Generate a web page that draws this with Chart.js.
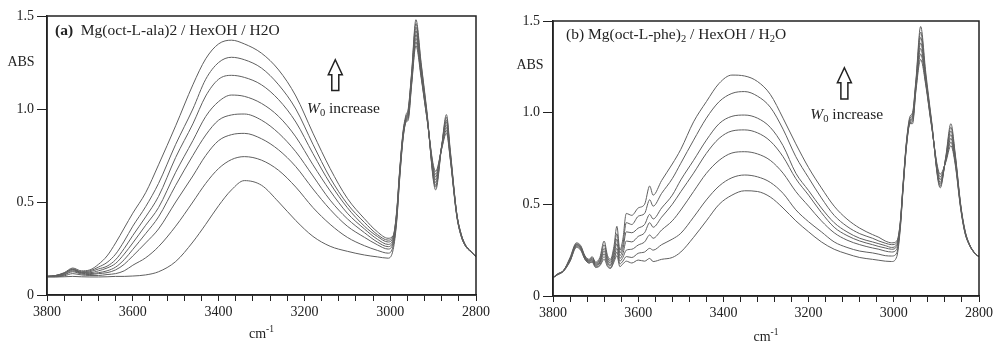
<!DOCTYPE html>
<html>
<head>
<meta charset="utf-8">
<script src="https://cdn.jsdelivr.net/npm/chart.js@4"></script>
<style>
body { margin: 0; background: #fff; width: 996px; height: 343px; overflow: hidden; position: relative; }
canvas { position: absolute; top: 0; }
</style>
</head>
<body>
<canvas id="ca" width="496" height="343" style="left:0"></canvas>
<canvas id="cb" width="490" height="343" style="left:506px"></canvas>
<script>
// wavenumber grids (cm-1)
const wnA = [3800, 3780, 3760, 3740, 3720, 3700, 3680, 3660, 3640, 3620, 3600,
  3570, 3540, 3500, 3460, 3430, 3400, 3370, 3340, 3300, 3260, 3220, 3180, 3140, 3100, 3060, 3030, 3005,
  2993, 2985, 2978, 2970, 2963, 2958, 2950, 2940, 2928, 2915, 2894, 2880, 2869, 2860, 2845, 2835, 2825, 2812, 2800]

const wnB = [3800, 3790, 3775, 3760, 3745, 3735, 3725, 3715, 3708, 3700, 3690, 3680, 3672, 3665, 3657, 3650, 3643, 3636, 3628, 3615, 3600, 3585, 3573, 3565, 3545,
  3520, 3500, 3470, 3440, 3410, 3380, 3350, 3320, 3290, 3260, 3230, 3200, 3170, 3140, 3110, 3080, 3050, 3035, 3020, 3005,
  2993, 2985, 2978, 2970, 2962, 2956, 2948, 2937, 2925, 2912, 2891, 2878, 2866, 2856, 2843, 2833, 2822, 2810, 2800]

// (a) Mg(oct-L-ala)2 — absorbance, W0 from high to low
const a1 = [0.10, 0.105, 0.12, 0.145, 0.13, 0.135, 0.165, 0.21, 0.28, 0.36, 0.44,
  0.55, 0.70, 0.91, 1.13, 1.27, 1.35, 1.37, 1.35, 1.30, 1.21, 1.07, 0.87, 0.68, 0.52, 0.41, 0.34, 0.305,
  0.32, 0.45, 0.67, 0.88, 0.97, 1.00, 1.20, 1.48, 1.25, 1.00, 0.565, 0.80, 0.97, 0.78, 0.44, 0.33, 0.27, 0.235, 0.205]
const a2 = [0.10, 0.105, 0.118, 0.14, 0.125, 0.13, 0.15, 0.175, 0.22, 0.29, 0.37,
  0.475, 0.60, 0.81, 1.00, 1.16, 1.25, 1.278, 1.265, 1.22, 1.13, 1.00, 0.81, 0.63, 0.49, 0.39, 0.325, 0.295,
  0.315, 0.44, 0.66, 0.87, 0.96, 0.99, 1.19, 1.46, 1.24, 0.99, 0.58, 0.80, 0.955, 0.77, 0.44, 0.33, 0.27, 0.235, 0.205]
const a3 = [0.10, 0.104, 0.116, 0.138, 0.122, 0.125, 0.14, 0.155, 0.19, 0.25, 0.32,
  0.42, 0.53, 0.74, 0.92, 1.07, 1.16, 1.181, 1.17, 1.13, 1.05, 0.93, 0.76, 0.60, 0.47, 0.37, 0.315, 0.285,
  0.31, 0.44, 0.66, 0.87, 0.955, 0.985, 1.18, 1.44, 1.22, 0.98, 0.59, 0.80, 0.94, 0.76, 0.44, 0.33, 0.27, 0.235, 0.205]
const a4 = [0.10, 0.103, 0.114, 0.135, 0.12, 0.12, 0.13, 0.145, 0.17, 0.22, 0.28,
  0.375, 0.47, 0.66, 0.83, 0.96, 1.04, 1.075, 1.068, 1.03, 0.96, 0.85, 0.70, 0.56, 0.44, 0.355, 0.30, 0.272,
  0.30, 0.43, 0.65, 0.86, 0.95, 0.975, 1.17, 1.42, 1.21, 0.98, 0.605, 0.80, 0.93, 0.755, 0.435, 0.325, 0.268, 0.233, 0.205]
const a5 = [0.10, 0.102, 0.11, 0.13, 0.117, 0.115, 0.12, 0.13, 0.15, 0.19, 0.245,
  0.33, 0.42, 0.59, 0.75, 0.86, 0.94, 0.968, 0.973, 0.94, 0.87, 0.77, 0.64, 0.51, 0.41, 0.335, 0.285, 0.26,
  0.29, 0.42, 0.65, 0.86, 0.945, 0.97, 1.16, 1.40, 1.20, 0.97, 0.62, 0.80, 0.915, 0.75, 0.435, 0.325, 0.268, 0.233, 0.205]
const a6 = [0.10, 0.10, 0.107, 0.125, 0.113, 0.11, 0.115, 0.12, 0.135, 0.165, 0.21,
  0.28, 0.355, 0.50, 0.64, 0.75, 0.83, 0.862, 0.869, 0.84, 0.78, 0.69, 0.57, 0.46, 0.37, 0.31, 0.27, 0.247,
  0.28, 0.41, 0.64, 0.85, 0.94, 0.96, 1.15, 1.38, 1.19, 0.97, 0.635, 0.79, 0.90, 0.74, 0.43, 0.32, 0.265, 0.232, 0.205]
const a7 = [0.098, 0.098, 0.103, 0.115, 0.108, 0.105, 0.105, 0.11, 0.115, 0.13, 0.16,
  0.20, 0.26, 0.37, 0.50, 0.60, 0.68, 0.728, 0.744, 0.725, 0.67, 0.58, 0.47, 0.38, 0.31, 0.265, 0.24, 0.225,
  0.265, 0.40, 0.63, 0.845, 0.935, 0.95, 1.14, 1.36, 1.18, 0.96, 0.65, 0.79, 0.885, 0.735, 0.43, 0.32, 0.265, 0.232, 0.205]
const a8 = [0.097, 0.097, 0.098, 0.10, 0.098, 0.097, 0.097, 0.098, 0.10, 0.10, 0.102,
  0.108, 0.125, 0.18, 0.285, 0.38, 0.48, 0.565, 0.615, 0.59, 0.50, 0.40, 0.315, 0.262, 0.235, 0.215, 0.205, 0.198,
  0.245, 0.39, 0.62, 0.84, 0.93, 0.94, 1.13, 1.34, 1.17, 0.96, 0.665, 0.785, 0.87, 0.73, 0.425, 0.32, 0.265, 0.232, 0.205]

// (b) Mg(oct-L-phe)2
const b1 = [0.10, 0.12, 0.14, 0.21, 0.29, 0.275, 0.22, 0.20, 0.215, 0.185, 0.21, 0.30, 0.22, 0.20, 0.27, 0.38, 0.25, 0.31, 0.45, 0.44, 0.48, 0.50, 0.60, 0.55, 0.63,
  0.72, 0.80, 0.95, 1.06, 1.16, 1.205, 1.20, 1.17, 1.10, 0.97, 0.83, 0.70, 0.59, 0.49, 0.42, 0.37, 0.335, 0.32, 0.30, 0.29,
  0.30, 0.40, 0.62, 0.85, 0.98, 1.00, 1.18, 1.47, 1.22, 0.97, 0.59, 0.76, 0.94, 0.78, 0.50, 0.36, 0.28, 0.235, 0.214]
const b2 = [0.10, 0.118, 0.14, 0.205, 0.285, 0.27, 0.215, 0.195, 0.21, 0.18, 0.20, 0.28, 0.21, 0.19, 0.25, 0.34, 0.235, 0.28, 0.40, 0.39, 0.435, 0.45, 0.525, 0.49, 0.56,
  0.64, 0.724, 0.85, 0.97, 1.06, 1.105, 1.115, 1.09, 1.03, 0.91, 0.76, 0.645, 0.535, 0.44, 0.38, 0.34, 0.315, 0.30, 0.288, 0.28,
  0.29, 0.395, 0.615, 0.845, 0.97, 0.99, 1.17, 1.44, 1.20, 0.96, 0.60, 0.755, 0.92, 0.77, 0.495, 0.355, 0.28, 0.235, 0.214]
const b3 = [0.10, 0.118, 0.14, 0.20, 0.28, 0.265, 0.21, 0.19, 0.205, 0.175, 0.19, 0.26, 0.20, 0.18, 0.235, 0.31, 0.22, 0.255, 0.35, 0.345, 0.37, 0.39, 0.445, 0.42, 0.48,
  0.55, 0.633, 0.74, 0.85, 0.94, 0.98, 0.987, 0.97, 0.92, 0.82, 0.67, 0.575, 0.48, 0.40, 0.35, 0.315, 0.295, 0.285, 0.275, 0.265,
  0.28, 0.39, 0.61, 0.84, 0.96, 0.98, 1.16, 1.41, 1.19, 0.955, 0.61, 0.75, 0.90, 0.76, 0.49, 0.355, 0.278, 0.234, 0.214]
const b4 = [0.10, 0.116, 0.138, 0.20, 0.28, 0.265, 0.21, 0.19, 0.20, 0.17, 0.185, 0.245, 0.19, 0.17, 0.22, 0.285, 0.205, 0.23, 0.30, 0.295, 0.325, 0.345, 0.40, 0.375, 0.43,
  0.50, 0.569, 0.67, 0.778, 0.86, 0.90, 0.906, 0.89, 0.845, 0.76, 0.64, 0.55, 0.455, 0.375, 0.33, 0.30, 0.28, 0.27, 0.262, 0.255,
  0.27, 0.385, 0.605, 0.835, 0.955, 0.97, 1.15, 1.38, 1.18, 0.95, 0.62, 0.745, 0.88, 0.75, 0.49, 0.35, 0.278, 0.234, 0.214]
const b5 = [0.10, 0.116, 0.138, 0.195, 0.275, 0.26, 0.205, 0.185, 0.195, 0.165, 0.18, 0.23, 0.18, 0.165, 0.205, 0.26, 0.19, 0.21, 0.25, 0.255, 0.278, 0.295, 0.333, 0.315, 0.36,
  0.41, 0.469, 0.57, 0.669, 0.74, 0.78, 0.787, 0.775, 0.74, 0.67, 0.57, 0.49, 0.41, 0.345, 0.305, 0.28, 0.262, 0.255, 0.245, 0.24,
  0.255, 0.38, 0.60, 0.83, 0.95, 0.96, 1.14, 1.35, 1.17, 0.945, 0.635, 0.74, 0.86, 0.74, 0.485, 0.35, 0.276, 0.233, 0.214]
const b6 = [0.10, 0.115, 0.136, 0.19, 0.27, 0.255, 0.20, 0.18, 0.19, 0.16, 0.17, 0.215, 0.17, 0.155, 0.195, 0.24, 0.175, 0.19, 0.215, 0.21, 0.233, 0.24, 0.26, 0.25, 0.28,
  0.31, 0.342, 0.43, 0.524, 0.60, 0.645, 0.66, 0.65, 0.62, 0.56, 0.47, 0.405, 0.35, 0.295, 0.265, 0.245, 0.235, 0.228, 0.22, 0.218,
  0.235, 0.37, 0.595, 0.825, 0.945, 0.95, 1.13, 1.32, 1.16, 0.94, 0.65, 0.735, 0.84, 0.73, 0.48, 0.345, 0.276, 0.233, 0.214]
const b7 = [0.10, 0.115, 0.136, 0.19, 0.265, 0.25, 0.20, 0.18, 0.185, 0.155, 0.165, 0.20, 0.16, 0.15, 0.185, 0.22, 0.16, 0.175, 0.19, 0.18, 0.196, 0.19, 0.205, 0.188, 0.20,
  0.21, 0.24, 0.32, 0.41, 0.50, 0.55, 0.574, 0.57, 0.54, 0.48, 0.41, 0.35, 0.295, 0.255, 0.23, 0.21, 0.20, 0.195, 0.19, 0.188,
  0.215, 0.36, 0.59, 0.82, 0.94, 0.94, 1.12, 1.29, 1.15, 0.935, 0.665, 0.73, 0.82, 0.72, 0.475, 0.345, 0.275, 0.233, 0.214]

const curvesA = [a1, a2, a3, a4, a5, a6, a7, a8]
const curvesB = [b1, b2, b3, b4, b5, b6, b7]

const yTicks = [0, 0.5, 1.0, 1.5]
const xLabelStep = 200

const FONT = '"Liberation Serif", "Times New Roman", serif'
const INK = '#222'

function drawRich(ctx, parts, x, y, size) {
  let cx = x
  for (const p of parts) {
    const s = (p.sub || p.sup) ? size * 0.68 : size
    ctx.font = `${p.i ? 'italic ' : ''}${p.b ? 'bold ' : ''}${s}px ${FONT}`
    const dy = p.sub ? size * 0.28 : p.sup ? -size * 0.3 : 0
    ctx.fillText(p.t, cx, y + dy)
    cx += ctx.measureText(p.t).width
  }
  return cx - x
}

function richWidth(ctx, parts, size) {
  let w = 0
  for (const p of parts) {
    const s = (p.sub || p.sup) ? size * 0.68 : size
    ctx.font = `${p.i ? 'italic ' : ''}${p.b ? 'bold ' : ''}${s}px ${FONT}`
    w += ctx.measureText(p.t).width
  }
  return w
}

const decorate = {
  id: 'decorate',
  afterDraw(chart, args, o) {
    const { ctx, chartArea: ca, scales } = chart
    ctx.save()
    // frame
    ctx.strokeStyle = INK
    ctx.lineWidth = 1.5
    ctx.strokeRect(ca.left, ca.top, ca.right - ca.left, ca.bottom - ca.top)

    ctx.fillStyle = INK
    ctx.textBaseline = 'middle'
    ctx.textAlign = 'left'
    drawRich(ctx, o.title, ca.left + o.titleDx, ca.top + o.titleDy, 15.5)

    ctx.textAlign = 'center'
    ctx.font = `14px ${FONT}`
    ctx.fillText('ABS', o.absX, o.absY)
    ctx.textAlign = 'left'

    const unit = [{ t: 'cm' }, { t: '-1', sup: true }]
    const uw = richWidth(ctx, unit, 14)
    drawRich(ctx, unit, (ca.left + ca.right) / 2 - uw / 2, o.unitY, 14)

    // outline arrow
    const ax = scales.x.getPixelForValue(o.arrow.x)
    const top = scales.y.getPixelForValue(o.arrow.top)
    const bot = scales.y.getPixelForValue(o.arrow.bottom)
    const neck = top + 15
    ctx.beginPath()
    ctx.moveTo(ax, top)
    ctx.lineTo(ax + 7, neck)
    ctx.lineTo(ax + 3.5, neck)
    ctx.lineTo(ax + 3.5, bot)
    ctx.lineTo(ax - 3.5, bot)
    ctx.lineTo(ax - 3.5, neck)
    ctx.lineTo(ax - 7, neck)
    ctx.closePath()
    ctx.fillStyle = '#fff'
    ctx.fill()
    ctx.lineWidth = 1.5
    ctx.stroke()

    ctx.fillStyle = INK
    drawRich(ctx, [{ t: 'W', i: true }, { t: '0', sub: true }, { t: ' increase' }],
      scales.x.getPixelForValue(o.label.x), scales.y.getPixelForValue(o.label.y), 15.5)
    ctx.restore()
  }
}

function makeChart(id, wn, curves, cfg) {
  return new Chart(document.getElementById(id), {
    type: 'line',
    data: {
      datasets: curves.map(c => ({
        data: wn.map((w, i) => ({ x: w, y: c[i] })),
        borderColor: '#5f5f5f',
        borderWidth: 1,
        pointRadius: 0,
        cubicInterpolationMode: 'monotone',
        fill: false
      }))
    },
    options: {
      responsive: false,
      animation: false,
      events: [],
      layout: { padding: { top: cfg.top, right: cfg.right, left: 0, bottom: 0 } },
      plugins: { legend: { display: false }, tooltip: { enabled: false }, decorate: cfg.deco },
      scales: {
        x: {
          type: 'linear', reverse: true, min: 2800, max: 3800,
          afterFit: s => { s.height = cfg.xh },
          border: { display: true, color: INK, width: 1.5 },
          grid: { display: true, drawOnChartArea: false, drawTicks: true, tickLength: 6, color: INK, lineWidth: 1 },
          ticks: {
            stepSize: 40, autoSkip: false, maxRotation: 0, padding: 3, color: INK,
            font: { family: FONT, size: 14 },
            callback: v => (v % xLabelStep === 0 ? String(v) : '')
          }
        },
        y: {
          min: 0, max: 1.5,
          afterFit: s => { s.width = cfg.yw },
          afterBuildTicks: s => { s.ticks = yTicks.map(v => ({ value: v })) },
          border: { display: true, color: INK, width: 1.5 },
          grid: { display: true, drawOnChartArea: false, drawTicks: true, tickLength: 10, color: INK, lineWidth: 1 },
          ticks: {
            padding: 3, color: INK, font: { family: FONT, size: 14 },
            callback: v => (v === 0 ? '0' : v.toFixed(1))
          }
        }
      }
    },
    plugins: [decorate]
  })
}

makeChart('ca', wnA, curvesA, {
  top: 16, right: 20, xh: 48, yw: 47,
  deco: {
    title: [{ t: '(a)', b: true }, { t: '  Mg(oct-L-ala)2 / HexOH / H2O' }],
    titleDx: 8, titleDy: 15,
    absX: 21, absY: 62, unitY: 334,
    arrow: { x: 3128, top: 1.265, bottom: 1.10 },
    label: { x: 3194, y: 1.0 }
  }
})

makeChart('cb', wnB, curvesB, {
  top: 21, right: 16, xh: 47, yw: 47,
  deco: {
    title: [{ t: '(b) Mg(oct-L-phe)' }, { t: '2', sub: true }, { t: ' / HexOH / H' }, { t: '2', sub: true }, { t: 'O' }],
    titleDx: 13, titleDy: 14,
    absX: 24, absY: 65, unitY: 337,
    arrow: { x: 3116, top: 1.245, bottom: 1.075 },
    label: { x: 3196, y: 0.99 }
  }
})
</script>
</body>
</html>
